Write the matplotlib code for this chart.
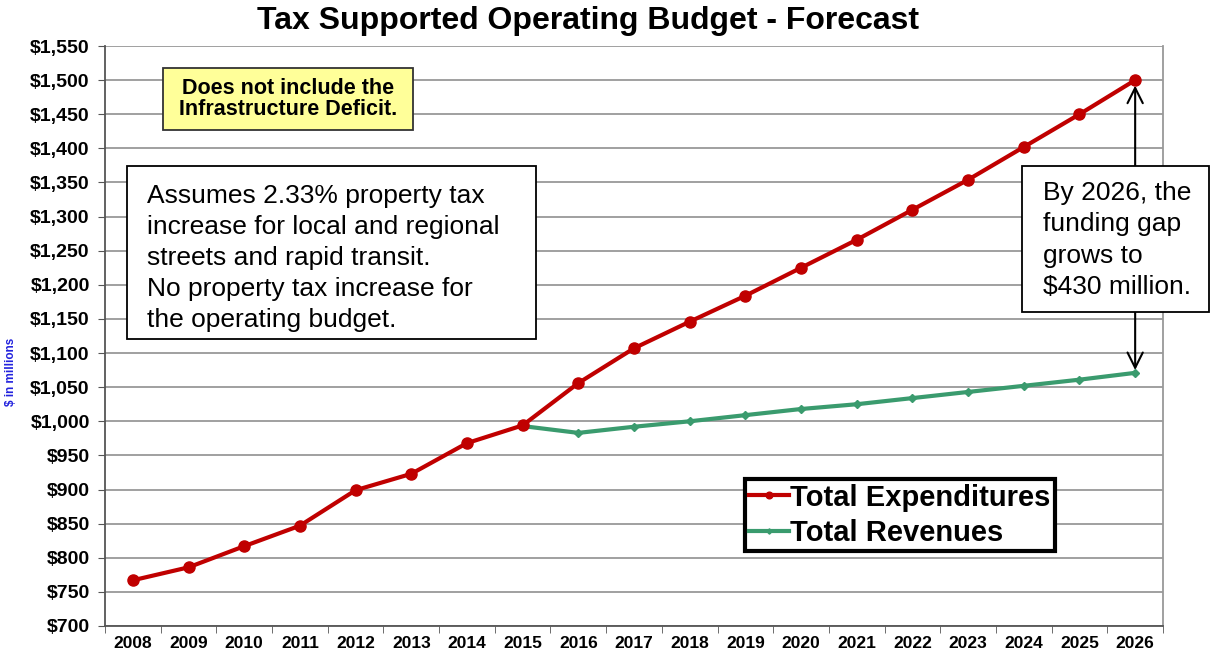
import matplotlib
matplotlib.use('Agg')
import matplotlib.pyplot as plt
from matplotlib.patches import Rectangle
import numpy as np

plt.rcParams['font.family'] = ['Liberation Sans', 'DejaVu Sans']

years = [str(y) for y in range(2008, 2027)]
expenditures = [767, 786, 817, 847, 899, 923, 968, 994, 1056, 1107, 1146,
                1184, 1225, 1266, 1310, 1354, 1402, 1450, 1500]
rev_start = 7   # revenues start at 2015
revenues = [993, 983, 992, 1000, 1009, 1018, 1025, 1034, 1043, 1052, 1061, 1071]
yticks = list(range(700, 1551, 50))

red = '#C00000'
green = '#3A9B6E'

W, H = 1210, 650
fig = plt.figure(figsize=(W/100, H/100), dpi=100)
ax = fig.add_axes([105/W, 1-626/H, 1058/W, 580/H])

def fbox(x0, y0, x1, y1, fc, ec='black', lw=1.3):
    # box given in pixel coords (top-left origin)
    r = Rectangle((x0/W, 1-y1/H), (x1-x0)/W, (y1-y0)/H, transform=fig.transFigure,
                  fc=fc, ec=ec, lw=lw, zorder=5)
    fig.add_artist(r)

x = np.arange(len(years))
xr = np.arange(rev_start, len(years))
ax.plot(x, expenditures, color=red, lw=3, marker='o', ms=8, label='Total Expenditures', zorder=4)
ax.plot(xr, revenues, color=green, lw=3, marker='D', ms=4.5, label='Total Revenues', zorder=3)

ax.set_xlim(-0.5, len(years) - 0.5)
ax.set_ylim(700, 1550)
ax.set_yticks(yticks)
ax.set_yticklabels(['${:,}'.format(v) for v in yticks], fontweight='bold', fontsize=14)
ax.set_xticks(x)
ax.set_xticklabels(years, fontweight='bold', fontsize=12.5)
ax.set_xticks(np.arange(-0.5, len(years), 1), minor=True)
ax.tick_params(axis='x', which='major', length=0, pad=7)
ax.tick_params(axis='x', which='minor', length=5, color='#555555')
ax.tick_params(axis='y', length=5, color='#555555', pad=6)
ax.grid(axis='y', color='#999999', lw=1.3)
ax.set_axisbelow(True)
for s in ['left', 'bottom']:
    ax.spines[s].set_color('#555555')
    ax.spines[s].set_linewidth(1.3)
ax.spines['right'].set_color('#999999')
ax.spines['right'].set_linewidth(1.3)
ax.spines['top'].set_visible(False)

ax.set_ylabel('$ in millions', color='#2222DD', fontsize=8.5, fontweight='bold')
ax.yaxis.set_label_coords(-0.083, 0.438)

fig.text(588/W, 1-21/H, 'Tax Supported Operating Budget - Forecast', ha='center', va='center',
         fontsize=23, fontweight='bold')

# yellow note
fbox(163, 68, 413, 130, '#FFFF99', ec='#333333', lw=1.3)
fig.text(288/W, 1-99/H, 'Does not include the\nInfrastructure Deficit.', ha='center', va='center',
         fontsize=15.5, fontweight='bold', linespacing=0.95, zorder=6)

# assumptions box
fbox(127, 166, 536, 339, 'white')
fig.text(147/W, 1-258/H, 'Assumes 2.33% property tax\nincrease for local and regional\n'
         'streets and rapid transit.\nNo property tax increase for\nthe operating budget.',
         ha='left', va='center', fontsize=19, linespacing=1.38, zorder=6)

# gap arrows
arrow = dict(arrowstyle='->,head_length=1.1,head_width=0.55', color='black', lw=1.5,
             shrinkA=0, shrinkB=0)
ax.annotate('', xy=(18, 1492), xytext=(18, 1374), arrowprops=arrow)
ax.annotate('', xy=(18, 1075), xytext=(18, 1160), arrowprops=arrow)

fbox(1022, 166, 1209, 312, 'white')
fig.text(1043/W, 1-240/H, 'By 2026, the\nfunding gap\ngrows to\n$430 million.',
         ha='left', va='center', fontsize=19, linespacing=1.38, zorder=6)

leg = ax.legend(loc='upper left', bbox_to_anchor=(0.605, 0.253), frameon=True, fancybox=False,
                framealpha=1, prop=dict(weight='bold', size=21), handlelength=1.35,
                handletextpad=0.05, borderpad=0.15, labelspacing=0.25, borderaxespad=0,
                markerscale=0.6)
leg.get_frame().set_edgecolor('black')
leg.get_frame().set_linewidth(3)
leg.set_zorder(7)

fig.savefig('out.png', dpi=100)
